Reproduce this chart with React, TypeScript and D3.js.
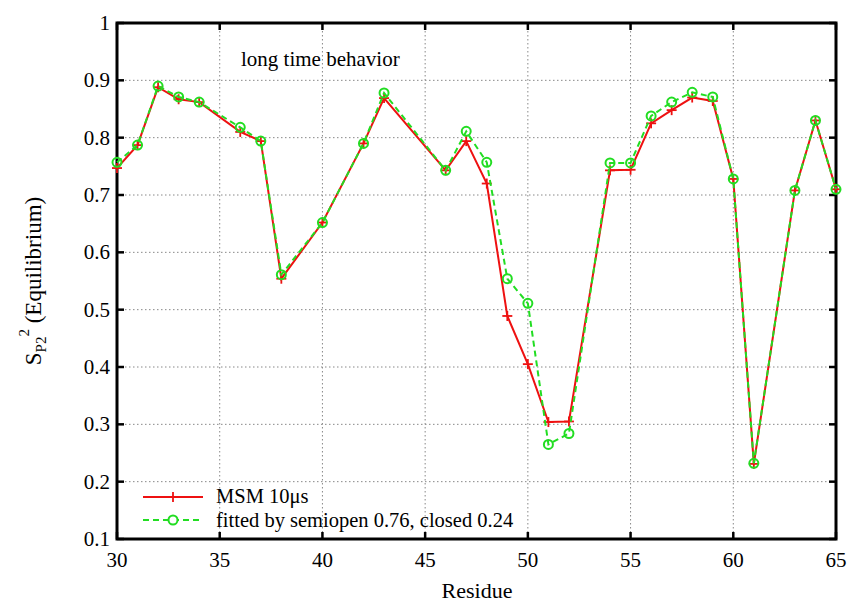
import React from "react";
import * as d3 from "d3";

const residues = [30, 31, 32, 33, 34, 36, 37, 38, 40, 42, 43, 46, 47, 48, 49, 50, 51, 52, 54, 55, 56, 57, 58, 59, 60, 61, 63, 64, 65];
const msm = [0.747, 0.787, 0.888, 0.867, 0.862, 0.810, 0.794, 0.554, 0.652, 0.790, 0.869, 0.743, 0.794, 0.720, 0.489, 0.405, 0.304, 0.305, 0.743, 0.744, 0.825, 0.848, 0.870, 0.864, 0.728, 0.231, 0.708, 0.830, 0.710];
const fitted = [0.757, 0.787, 0.890, 0.871, 0.862, 0.818, 0.794, 0.561, 0.652, 0.790, 0.878, 0.743, 0.811, 0.757, 0.554, 0.511, 0.265, 0.284, 0.756, 0.756, 0.838, 0.862, 0.879, 0.871, 0.728, 0.232, 0.708, 0.830, 0.710];
const xTicks = [30, 35, 40, 45, 50, 55, 60, 65];
const yTicks = [0.1, 0.2, 0.3, 0.4, 0.5, 0.6, 0.7, 0.8, 0.9, 1];
const title = "long time behavior";
const legend1 = "MSM 10\u03bcs";
const legend2 = "fitted by semiopen 0.76, closed 0.24";

const RED = "#ee1111";
const GREEN = "#22dd22";
const FONT = "Liberation Serif, Times New Roman, DejaVu Serif, serif";
const ts: React.CSSProperties = { fontFamily: FONT };

export default function App() {
  const W = 851, H = 604;
  const L = 117, R = 836, T = 23, B = 539;
  const x = d3.scaleLinear().domain([30, 65]).range([L, R]);
  const y = d3.scaleLinear().domain([0.1, 1]).range([B, T]);
  const line = d3.line<number>().x((_, i) => x(residues[i])).y((d) => y(d));
  const fmtY = (v: number) => (v === 1 ? "1" : v.toFixed(1));
  const tl = 7;
  return (
    <svg width={W} height={H} style={{ position: "absolute", left: 0, top: 0, background: "#fff", fontFamily: FONT }}>
      {/* grid */}
      {xTicks.slice(1, -1).map((t) => (
        <line key={"gx" + t} x1={x(t)} x2={x(t)} y1={T} y2={B} stroke="#888" strokeWidth={1} strokeDasharray="1.5,2.5" />
      ))}
      {yTicks.slice(1, -1).map((t) => (
        <line key={"gy" + t} x1={L} x2={R} y1={y(t)} y2={y(t)} stroke="#888" strokeWidth={1} strokeDasharray="1.5,2.5" />
      ))}
      {/* ticks */}
      {xTicks.map((t) => (
        <g key={"tx" + t}>
          <line x1={x(t)} x2={x(t)} y1={B} y2={B - tl} stroke="#000" strokeWidth={2.5} />
          <line x1={x(t)} x2={x(t)} y1={T} y2={T + tl} stroke="#000" strokeWidth={2.5} />
          <text style={ts} x={x(t)} y={567} fontSize={21} textAnchor="middle">{t}</text>
        </g>
      ))}
      {yTicks.map((t) => (
        <g key={"ty" + t}>
          <line x1={L} x2={L + tl} y1={y(t)} y2={y(t)} stroke="#000" strokeWidth={2.5} />
          <line x1={R} x2={R - tl} y1={y(t)} y2={y(t)} stroke="#000" strokeWidth={2.5} />
          <text style={ts} x={110} y={y(t) + 7} fontSize={21} textAnchor="end">{fmtY(t)}</text>
        </g>
      ))}
      {/* border */}
      <rect x={L} y={T} width={R - L} height={B - T} fill="none" stroke="#000" strokeWidth={3} />
      {/* title */}
      <text style={ts} x={241} y={66} fontSize={21}>{title}</text>
      {/* series */}
      <path d={line(msm) || ""} fill="none" stroke={RED} strokeWidth={2} />
      {msm.map((v, i) => (
        <g key={"m" + i} stroke={RED} strokeWidth={1.8}>
          <line x1={x(residues[i]) - 5} x2={x(residues[i]) + 5} y1={y(v)} y2={y(v)} />
          <line x1={x(residues[i])} x2={x(residues[i])} y1={y(v) - 5} y2={y(v) + 5} />
        </g>
      ))}
      <path d={line(fitted) || ""} fill="none" stroke={GREEN} strokeWidth={2} strokeDasharray="6,4" />
      {fitted.map((v, i) => (
        <circle key={"f" + i} cx={x(residues[i])} cy={y(v)} r={4.5} fill="none" stroke={GREEN} strokeWidth={2} />
      ))}
      {/* legend */}
      <line x1={143} x2={203} y1={497} y2={497} stroke={RED} strokeWidth={2} />
      <line x1={173} x2={173} y1={492} y2={502} stroke={RED} strokeWidth={1.8} />
      <line x1={168} x2={178} y1={497} y2={497} stroke={RED} strokeWidth={1.8} />
      <text style={ts} x={216} y={503} fontSize={20.5}>{legend1}</text>
      <line x1={143} x2={203} y1={520} y2={520} stroke={GREEN} strokeWidth={2} strokeDasharray="6,4" />
      <circle cx={173} cy={520} r={4.5} fill="#fff" stroke={GREEN} strokeWidth={2} />
      <text style={ts} x={216} y={527} fontSize={20.5}>{legend2}</text>
      {/* axis labels */}
      <text style={ts} x={477} y={598} fontSize={22} textAnchor="middle">Residue</text>
      <text style={ts} transform="translate(41,281) rotate(-90)" fontSize={23} textAnchor="middle">
        S<tspan fontSize={15} dy={5}>P2</tspan><tspan fontSize={15} dy={-17}>2</tspan><tspan dy={12}> (Equilibrium)</tspan>
      </text>
    </svg>
  );
}
